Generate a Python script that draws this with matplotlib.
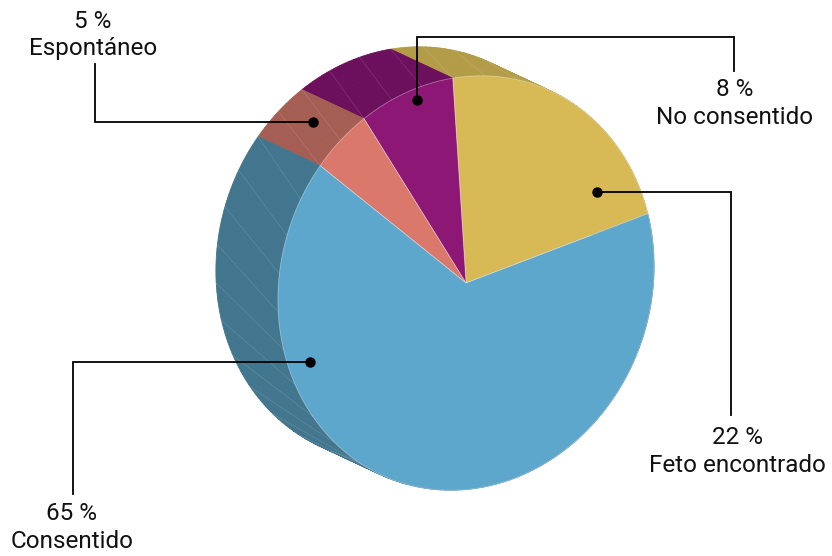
import numpy as np
import matplotlib
matplotlib.use('Agg')
import matplotlib.pyplot as plt
from matplotlib.patches import Polygon

# Slices, counter-clockwise from the yellow/blue boundary
labels = ['Feto encontrado', 'No consentido', 'Espontáneo', 'Consentido']
values = [22, 8, 5, 65]
face_colors = ['#D7B955', '#8C1775', '#DA786C', '#5DA6CC']
side_colors = ['#B29C48', '#6C0F5C', '#A55E54', '#42768E']

# Pie geometry, in pixels (y down)
cx, cy = 466, 283
a, b = 210, 185
tilt = np.radians(70)
depth = np.array([-62.0, -29.0])
start = 17.3

# Leader lines (dot first) and label anchors (x, y of percent, y of name)
leaders = {
    'Espontáneo': ([(313, 122), (95, 122), (95, 64)], (93, 21, 48)),
    'No consentido': ([(417, 100), (417, 37), (734, 37), (734, 71)],
                      (735, 90, 118)),
    'Feto encontrado': ([(597, 192), (731, 192), (731, 415)],
                        (737, 437, 465)),
    'Consentido': ([(310, 362), (73, 362), (73, 494)], (72, 513, 541)),
}


def rim(theta):
    """Point on the front ellipse for a pie angle (radians, CCW)."""
    t = theta - tilt
    x = a * np.cos(t) * np.cos(tilt) - b * np.sin(t) * np.sin(tilt)
    y = a * np.cos(t) * np.sin(tilt) + b * np.sin(t) * np.cos(tilt)
    return np.column_stack([cx + x, cy - y])


fig = plt.figure(figsize=(8.32, 5.56), dpi=100)
ax = fig.add_axes([0, 0, 1, 1])
ax.set_xlim(0, 832)
ax.set_ylim(556, 0)
ax.axis('off')

total = sum(values)
angle = start
for lab, val, fc, sc in zip(labels, values, face_colors, side_colors):
    span = 360.0 * val / total

    # side of the slab, finely sampled so the outline stays smooth
    n = max(4, int(np.ceil(span / 1.5)))
    th = np.radians(np.linspace(angle, angle + span, n + 1))
    front = rim(th)
    back = front + depth
    for i in range(n):
        quad = [front[i], front[i + 1], back[i + 1], back[i]]
        ax.add_patch(Polygon(quad, closed=True, facecolor=sc,
                             edgecolor=sc, linewidth=0.6, zorder=1))

    # faint mesh diagonals on the side
    m = max(2, int(np.ceil(span / 11.0)))
    thm = np.radians(np.linspace(angle, angle + span, m + 1))
    fm = rim(thm)
    bm = fm + depth
    for i in range(m):
        ax.plot([bm[i][0], fm[i + 1][0]], [bm[i][1], fm[i + 1][1]],
                color='white', alpha=0.15, linewidth=0.5, zorder=1.5)

    # top face
    thf = np.radians(np.linspace(angle, angle + span, 120))
    pts = np.vstack([[cx, cy], rim(thf)])
    ax.add_patch(Polygon(pts, closed=True, facecolor=fc,
                         edgecolor=(1, 1, 1, 0.35), linewidth=0.6, zorder=2))
    angle += span

# labels with leader lines
for lab, val in zip(labels, values):
    path, (tx, ty1, ty2) = leaders[lab]
    xs, ys = zip(*path)
    ax.plot(xs, ys, color='black', linewidth=1.3, zorder=3,
            solid_joinstyle='miter')
    ax.plot(xs[0], ys[0], 'o', color='black', markersize=6.5, zorder=4)
    ax.text(tx, ty1, f'{val} %', ha='center', va='center',
            fontsize=17.5, family='Roboto', color='#111111')
    ax.text(tx, ty2, lab, ha='center', va='center',
            fontsize=17.5, family='Roboto', color='#111111')

fig.savefig('out.png', dpi=100)
